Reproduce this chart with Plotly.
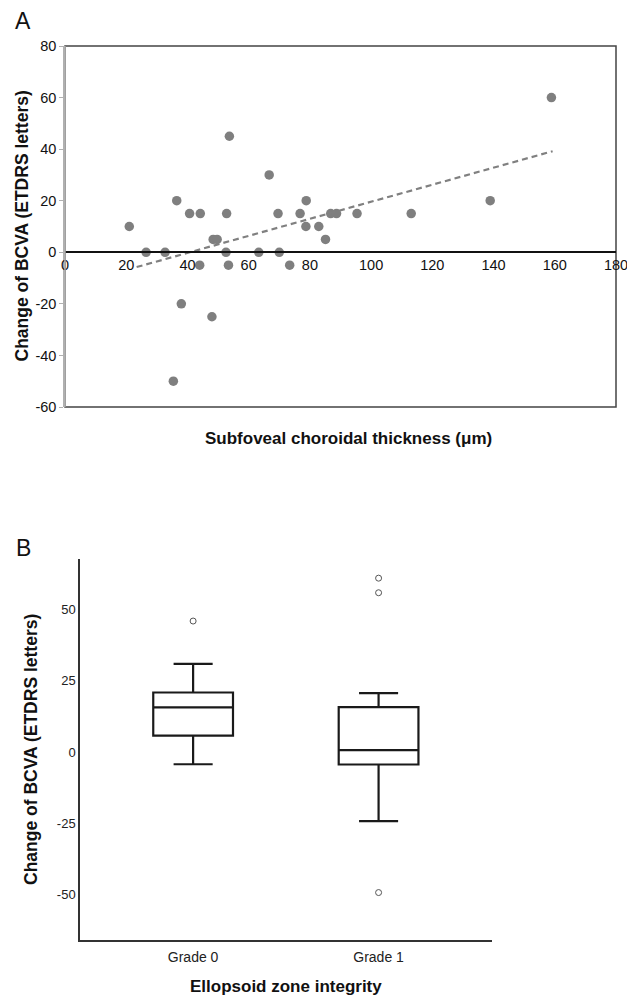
import numpy as np
import plotly.graph_objects as go

# Panel A data
thickness = [21, 26.5, 32.7, 36.5, 35.4, 38.0, 40.7, 44.2, 44.0, 48.0, 48.4, 49.7,
             52.8, 52.6, 53.4, 53.7, 63.3, 66.7, 69.6, 70.0, 73.4, 76.8, 78.8, 78.7,
             82.9, 85.1, 86.8, 88.7, 95.4, 113.1, 138.9, 158.9]
bcva_change = [10, 0, 0, 20, -50, -20, 15, 15, -5, -25, 5, 5,
               15, 0, -5, 45, 0, 30, 15, 0, -5, 15, 20, 10,
               10, 5, 15, 15, 15, 15, 20, 60]
a_xticks = [0, 20, 40, 60, 80, 100, 120, 140, 160, 180]
a_yticks = [-60, -40, -20, 0, 20, 40, 60, 80]

# Panel B data (box statistics)
groups = ["Grade 0", "Grade 1"]
q1 = [5.7, -4.4]
median = [15.6, 0.6]
q3 = [20.8, 15.7]
lower = [-4.3, -24.2]
upper = [30.8, 20.6]
outlier_group = [0, 1, 1, 1]
outlier_vals = [45.8, 60.8, 55.7, -49.2]
b_yticks = [-50, -25, 0, 25, 50]

FONT = "Liberation Sans, Arial, sans-serif"
W, H = 627, 998


def px(x):
    return x / W


def py(y):
    return 1 - y / H


fig = go.Figure()

# Panel A scatter
fig.add_trace(go.Scatter(x=thickness, y=bcva_change, mode="markers",
                         marker=dict(size=9.5, color="#7f7f7f"),
                         xaxis="x", yaxis="y", showlegend=False))
coef = np.polyfit(thickness, bcva_change, 1)
xl = np.array([min(thickness) + 2.4, max(thickness) + 0.4])
fig.add_trace(go.Scatter(x=xl, y=np.polyval(coef, xl), mode="lines",
                         line=dict(color="#808080", width=2.2, dash="6px,4px"),
                         xaxis="x", yaxis="y", showlegend=False))

# Panel B boxes
fig.add_trace(go.Box(x=[0, 1], q1=q1, median=median, q3=q3,
                     lowerfence=lower, upperfence=upper,
                     width=0.43, whiskerwidth=0.49, boxpoints=False,
                     line=dict(color="#1a1a1a", width=2.2), fillcolor="white",
                     xaxis="x2", yaxis="y2", showlegend=False))
fig.add_trace(go.Scatter(x=outlier_group, y=outlier_vals, mode="markers",
                         marker=dict(symbol="circle-open", size=6,
                                     color="#555555", line=dict(width=1)),
                         xaxis="x2", yaxis="y2", showlegend=False))

TITLE_Y = "<b>Change of BCVA (ETDRS letters)</b>"

fig.update_layout(
    width=W, height=H, margin=dict(l=0, r=0, t=0, b=0, autoexpand=False),
    paper_bgcolor="white", plot_bgcolor="white",
    font=dict(family=FONT, color="#111111"),
    xaxis=dict(domain=[px(65), px(616)], range=[0, 180], anchor="free",
               position=py(252.3), showgrid=False, zeroline=False, automargin=False,
               showline=True, linecolor="#111111", linewidth=1.5,
               tickvals=a_xticks, ticks="", tickfont=dict(size=14.5, color="#111"),
               ticklabelstandoff=0, ticklabeloverflow="allow"),
    yaxis=dict(domain=[py(407), py(46)], range=[-60, 80], anchor="x",
               showgrid=False, zeroline=False, showline=True, automargin=False,
               linecolor="#b0b0b0", linewidth=1.5,
               tickvals=a_yticks, ticktext=[str(v) for v in a_yticks],
               ticks="outside", ticklen=4, tickcolor="#b0b0b0",
               tickfont=dict(size=14.5, color="#111"), ticklabeloverflow="allow"),
    xaxis2=dict(domain=[px(80), px(491.7)], range=[-0.61, 1.61], anchor="y2",
                showgrid=False, zeroline=False, showline=True, automargin=False,
                linecolor="#333333", linewidth=1.5,
                tickvals=[0, 1], ticktext=groups, ticks="", ticklabelstandoff=3,
                tickfont=dict(size=14, color="#222")),
    yaxis2=dict(domain=[py(940), py(559.3)], range=[-65.8, 67.4], anchor="x2",
                showgrid=False, zeroline=False, showline=True, automargin=False,
                linecolor="#333333", linewidth=1.5,
                tickvals=b_yticks, ticktext=[str(v) for v in b_yticks], ticks="",
                tickfont=dict(size=13, color="#222")),
    shapes=[
        dict(type="rect", xref="x domain", yref="y domain", x0=0, x1=1, y0=0, y1=1,
             line=dict(color="#444444", width=1.5), layer="below"),
        dict(type="line", xref="x domain", yref="y domain", x0=0, x1=0, y0=0, y1=1,
             line=dict(color="#b0b0b0", width=1.5)),
    ],
    annotations=[
        dict(text="A", x=px(23), y=py(21), xref="paper", yref="paper",
             xanchor="center", yanchor="middle", showarrow=False,
             font=dict(size=23, color="#111")),
        dict(text="B", x=px(23), y=py(548), xref="paper", yref="paper",
             xanchor="center", yanchor="middle", showarrow=False,
             font=dict(size=23, color="#111")),
        dict(text=TITLE_Y, x=px(21), y=py(226.5), xref="paper", yref="paper",
             xanchor="center", yanchor="middle", textangle=-90, showarrow=False,
             font=dict(size=17.5, color="#111")),
        dict(text="<b>Subfoveal choroidal thickness (μm)</b>", x=px(348), y=py(438),
             xref="paper", yref="paper", xanchor="center", yanchor="middle",
             showarrow=False, font=dict(size=17, color="#111")),
        dict(text=TITLE_Y, x=px(31), y=py(750), xref="paper", yref="paper",
             xanchor="center", yanchor="middle", textangle=-90, showarrow=False,
             font=dict(size=17.5, color="#111")),
        dict(text="<b>Ellopsoid zone integrity</b>", x=px(286), y=py(986),
             xref="paper", yref="paper", xanchor="center", yanchor="middle",
             showarrow=False, font=dict(size=17, color="#111")),
    ],
)

fig.write_html(
    "out.html",
    config={"displayModeBar": False},
    post_script="document.body.style.margin='0';document.body.style.overflow='hidden';",
)
